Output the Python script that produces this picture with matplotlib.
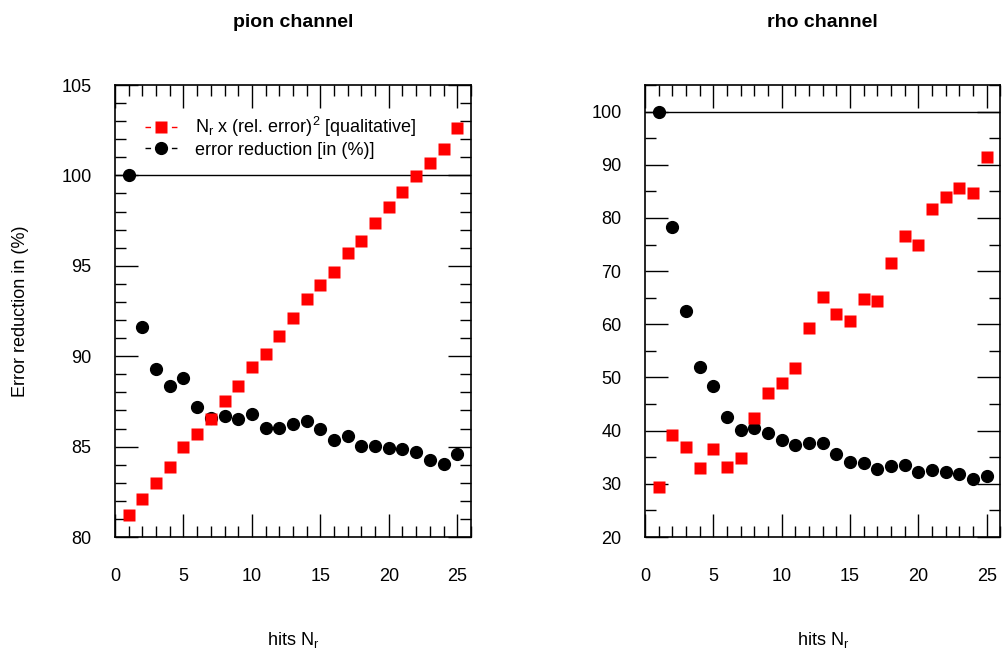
import numpy as np
import matplotlib
matplotlib.use("Agg")
import matplotlib.pyplot as plt
from matplotlib.lines import Line2D
from matplotlib.ticker import MultipleLocator

plt.rcParams['font.family'] = ['Liberation Sans', 'DejaVu Sans']
plt.rcParams['mathtext.fontset'] = 'custom'
plt.rcParams['mathtext.rm'] = 'Liberation Sans'
plt.rcParams['mathtext.it'] = 'Liberation Sans'

hits = np.arange(1, 26)

# pion channel
pion_reduction = [100.0, 91.63, 89.27, 88.35, 88.79, 87.17, 86.6, 86.69, 86.53, 86.82,
                  86.01, 86.05, 86.23, 86.43, 85.99, 85.38, 85.57, 85.03, 85.05, 84.90,
                  84.88, 84.70, 84.26, 84.02, 84.57]
pion_qual = [81.2, 82.08, 82.97, 83.89, 84.96, 85.68, 86.54, 87.50, 88.37, 89.40,
             90.14, 91.12, 92.13, 93.16, 93.92, 94.67, 95.69, 96.39, 97.35, 98.24,
             99.1, 99.95, 100.67, 101.46, 102.64]

# rho channel
rho_reduction = [100.0, 78.37, 62.56, 52.0, 48.37, 42.56, 40.12, 40.5, 39.6, 38.19,
                 37.31, 37.75, 37.69, 35.56, 34.06, 33.88, 32.75, 33.31, 33.5, 32.31,
                 32.69, 32.31, 31.88, 31.0, 31.5]
rho_qual = [29.5, 39.19, 36.88, 33.0, 36.63, 33.19, 34.88, 42.44, 47.0, 48.94,
            51.81, 59.25, 65.13, 62.0, 60.69, 64.69, 64.31, 71.5, 76.69, 74.94,
            81.75, 83.88, 85.56, 84.69, 91.5]

fig = plt.figure(figsize=(10.02, 6.57), dpi=100)
ax1 = fig.add_axes([0.1148, 0.1826, 0.3552, 0.688])
ax2 = fig.add_axes([0.6437, 0.1826, 0.3548, 0.688])

def style(ax, ylim, ymajor, yminor, title):
    ax.set_xlim(0, 26)
    ax.set_ylim(*ylim)
    ax.axhline(100, color='black', lw=1.0, zorder=1)
    ax.xaxis.set_major_locator(MultipleLocator(5))
    ax.xaxis.set_minor_locator(MultipleLocator(1))
    ax.yaxis.set_major_locator(MultipleLocator(ymajor))
    ax.yaxis.set_minor_locator(MultipleLocator(yminor))
    ax.tick_params(which='both', direction='in', top=True, right=True, width=1.0, labelsize=13)
    ax.tick_params(which='major', length=16.5)
    ax.tick_params(which='minor', length=8)
    ax.tick_params(axis='x', pad=22)
    ax.tick_params(axis='y', pad=17)
    for s in ax.spines.values():
        s.set_linewidth(1.2)
    ax.set_title(title, fontsize=14, fontweight='bold', pad=42)
    ax.text(0.5, -0.228, r'hits $\mathrm{N_r}$', transform=ax.transAxes,
            ha='center', va='center', fontsize=13)

ax1.plot(hits, pion_qual, ls='none', marker='s', ms=8, color='red', mec='none', zorder=3)
ax1.plot(hits, pion_reduction, ls='none', marker='o', ms=8.5, color='black', zorder=2)
style(ax1, (80, 105), 5, 1, 'pion channel')
ax1.set_yticks([80, 85, 90, 95, 100, 105])
ax1.set_ylabel('Error reduction in (%)', fontsize=13, labelpad=23)

ax2.plot(hits, rho_qual, ls='none', marker='s', ms=8, color='red', mec='none', zorder=3)
ax2.plot(hits, rho_reduction, ls='none', marker='o', ms=8.5, color='black', zorder=2)
style(ax2, (20, 105), 10, 5, 'rho channel')
ax2.set_yticks([20, 30, 40, 50, 60, 70, 80, 90, 100])

handles = [
    Line2D([], [], color='red', ls=(0, (4, 5.5)), lw=1, marker='s', ms=8, mec='none'),
    Line2D([], [], color='black', ls=(0, (4, 5.5)), lw=1, marker='o', ms=8.5),
]
ax1.legend(handles, [r'$\mathrm{N_r}$ x (rel. error)$^2$ [qualitative]', 'error reduction [in (%)]'],
           loc='upper left', bbox_to_anchor=(0.065, 0.95), frameon=False, fontsize=13,
           handlelength=1.77, handletextpad=1.0, labelspacing=0.15, borderaxespad=0)

fig.savefig('out.png', dpi=100)
